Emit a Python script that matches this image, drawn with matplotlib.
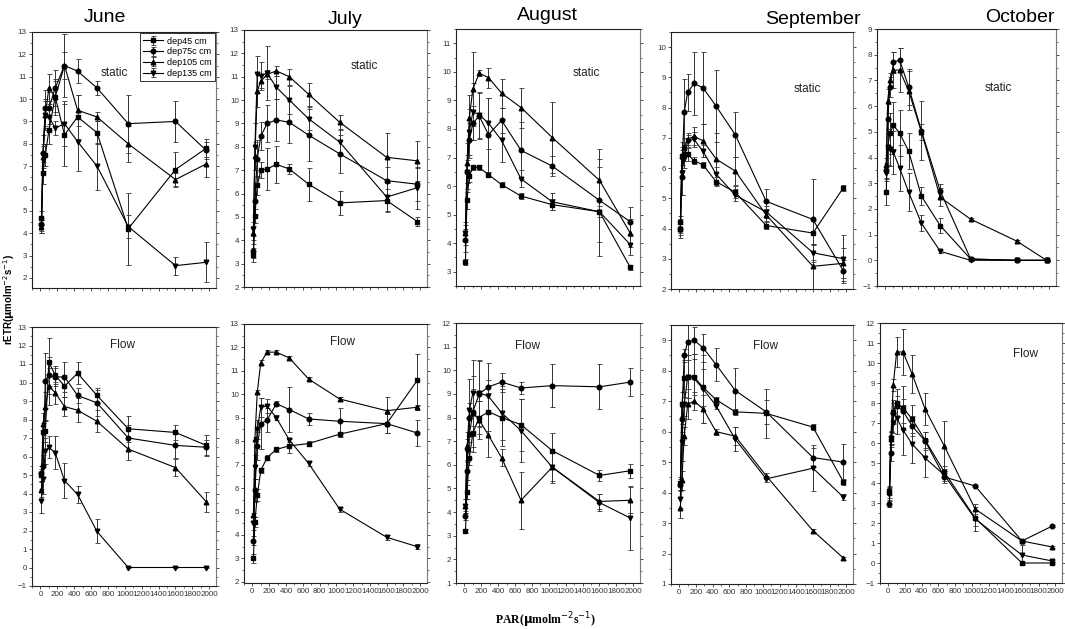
import matplotlib
matplotlib.use("Agg")
import matplotlib.pyplot as plt
from matplotlib.ticker import MultipleLocator

plt.rcParams['font.family'] = ['Liberation Sans', 'DejaVu Sans']

# PAR steps of the rapid light curves
par = [12, 30, 58, 100, 175, 285, 440, 670, 1040, 1600, 1965]
series = ['dep45 cm', 'dep75c cm', 'dep105 cm', 'dep135 cm']
months = ['June', 'July', 'August', 'September', 'October']

# rETR means (rows: dep45, dep75c, dep105, dep135) and standard errors
jun_static = [[4.7, 6.7, 7.5, 8.6, 10.1, 8.4, 9.2, 8.5, 4.2, 6.85, 7.8],
              [4.4, 7.6, 9.6, 9.6, 10.5, 11.5, 11.25, 10.5, 8.9, 9.0, 7.7],
              [4.3, 7.4, 9.3, 10.5, 10.1, 11.5, 9.5, 9.2, 8.0, 6.4, 7.1],
              [4.3, 7.5, 9.3, 9.2, 8.7, 8.9, 8.1, 7.0, 4.3, 2.55, 2.7]]
jun_static_err = [[0.3, 0.5, 0.5, 0.6, 0.7, 1.4, 1.0, 0.5, 1.6, 0.8, 0.4],
                  [0.3, 0.8, 0.8, 0.7, 0.8, 1.4, 0.55, 0.3, 1.3, 0.9, 0.4],
                  [0.3, 0.5, 0.7, 0.6, 0.8, 0.6, 0.7, 0.2, 0.8, 0.3, 0.6],
                  [0.3, 0.5, 0.6, 0.6, 0.3, 1.0, 1.3, 1.05, 0.5, 0.4, 0.9]]

jul_static = [[3.35, 5.05, 6.35, 7.0, 7.05, 7.25, 7.05, 6.4, 5.6, 5.7, 4.8],
              [3.55, 5.7, 7.5, 8.45, 9.0, 9.15, 9.05, 8.5, 7.7, 6.55, 6.4],
              [4.3, 7.6, 10.4, 10.8, 11.1, 11.25, 11.0, 10.25, 9.05, 7.55, 7.4],
              [4.5, 8.0, 11.1, 11.05, 11.15, 10.55, 10.0, 9.2, 8.2, 5.85, 6.25]]
jul_static_err = [[0.3, 0.3, 0.4, 0.35, 0.9, 0.8, 0.2, 0.7, 0.5, 0.5, 0.2],
                  [0.3, 0.6, 0.8, 0.6, 0.8, 0.9, 0.9, 1.1, 0.8, 0.6, 0.7],
                  [0.3, 0.6, 0.7, 0.3, 0.2, 0.2, 0.35, 0.5, 0.3, 1.05, 0.85],
                  [0.3, 1.0, 0.8, 0.6, 1.15, 0.5, 0.6, 0.5, 0.5, 0.6, 0.9]]

aug_static = [[3.35, 5.5, 6.35, 6.65, 6.65, 6.4, 6.05, 5.65, 5.35, 5.1, 3.15],
              [4.1, 6.5, 7.6, 8.2, 8.45, 7.8, 8.3, 7.25, 6.7, 5.5, 4.75],
              [4.35, 6.8, 8.4, 9.4, 9.95, 9.8, 9.25, 8.75, 7.7, 6.2, 4.35],
              [4.35, 6.5, 7.9, 8.6, 8.5, 8.2, 7.6, 6.25, 5.45, 5.1, 3.95]]
aug_static_err = [[0.1, 0.3, 0.2, 0.1, 0.1, 0.1, 0.1, 0.1, 0.2, 0.2, 0.1],
                  [0.4, 0.4, 0.6, 0.6, 0.8, 1.3, 0.45, 1.0, 0.35, 1.45, 0.5],
                  [0.3, 0.7, 0.8, 1.3, 0.1, 0.35, 0.5, 0.7, 1.25, 1.1, 0.5],
                  [0.4, 0.6, 0.8, 1.0, 0.8, 0.9, 0.75, 0.3, 0.3, 1.55, 0.35]]

sep_static = [[4.2, 6.4, 6.45, 6.45, 6.25, 6.1, 5.55, 5.2, 4.1, 3.85, 5.35],
              [4.0, 5.7, 7.85, 8.5, 8.8, 8.65, 8.05, 7.1, 4.9, 4.3, 2.6],
              [4.0, 6.4, 6.7, 6.95, 7.05, 6.9, 6.3, 5.9, 4.45, 2.75, 2.85],
              [4.0, 5.85, 6.3, 6.9, 6.95, 6.55, 5.8, 5.1, 4.55, 3.2, 3.0]]
sep_static_err = [[0.2, 0.3, 0.2, 0.2, 0.1, 0.1, 0.15, 0.2, 0.1, 0.4, 0.1],
                  [0.3, 0.6, 1.1, 0.6, 1.05, 1.2, 1.2, 0.75, 0.4, 1.35, 0.35],
                  [0.2, 0.45, 0.3, 0.2, 0.3, 0.55, 0.85, 0.45, 0.2, 0.75, 0.5],
                  [0.15, 0.75, 0.3, 0.2, 0.25, 0.2, 0.25, 0.2, 0.2, 0.3, 0.8]]

oct_static = [[2.65, 4.4, 4.95, 5.25, 4.95, 4.25, 2.5, 1.35, 0.05, 0.0, 0.0],
              [3.5, 5.5, 6.75, 7.7, 7.8, 6.75, 5.05, 2.7, 0.05, 0.0, 0.0],
              [3.7, 6.2, 7.0, 7.4, 7.4, 6.6, 5.0, 2.45, 1.6, 0.75, 0.0],
              [3.4, 4.4, 4.35, 4.2, 3.6, 2.65, 1.45, 0.35, 0.0, 0.0, 0.0]]
oct_static_err = [[0.5, 0.7, 0.8, 0.9, 0.9, 0.7, 0.35, 0.3, 0.05, 0.02, 0.02],
                  [0.3, 0.6, 0.4, 0.4, 0.45, 0.7, 1.15, 0.25, 0.05, 0.02, 0.02],
                  [0.3, 0.45, 0.3, 0.7, 0.85, 0.75, 0.3, 0.35, 0.05, 0.05, 0.02],
                  [0.3, 0.7, 0.7, 0.85, 0.9, 0.75, 0.3, 0.05, 0.02, 0.02, 0.02]]

jun_flow = [[5.0, 7.3, 7.4, 11.1, 10.4, 9.8, 10.5, 9.3, 7.5, 7.3, 6.6],
            [5.1, 5.5, 10.1, 10.4, 10.3, 10.3, 9.3, 8.9, 7.0, 6.6, 6.5],
            [4.2, 7.75, 8.7, 9.8, 9.45, 8.7, 8.5, 7.9, 6.4, 5.4, 3.55],
            [3.6, 4.8, 6.3, 6.5, 6.2, 4.7, 3.95, 1.95, 0.0, 0.0, 0.0]]
jun_flow_err = [[0.3, 0.5, 0.6, 1.3, 0.5, 0.6, 0.6, 0.4, 0.7, 0.4, 0.55],
                [0.4, 0.6, 1.5, 1.0, 0.5, 0.8, 0.4, 0.7, 0.7, 0.7, 0.4],
                [0.4, 0.6, 0.8, 1.0, 0.6, 0.5, 0.65, 0.6, 0.6, 0.45, 0.55],
                [0.65, 0.8, 0.7, 0.6, 0.9, 0.95, 0.45, 0.65, 0.05, 0.05, 0.05]]

jul_flow = [[3.0, 4.55, 5.7, 6.75, 7.3, 7.65, 7.8, 7.9, 8.3, 8.75, 10.6],
            [3.75, 5.9, 7.8, 8.75, 8.9, 9.6, 9.35, 8.95, 8.85, 8.75, 8.35],
            [4.85, 8.1, 10.1, 11.35, 11.8, 11.8, 11.55, 10.65, 9.8, 9.3, 9.45],
            [4.5, 6.9, 8.5, 9.45, 9.5, 9.0, 8.05, 7.05, 5.1, 3.9, 3.5]]
jul_flow_err = [[0.2, 0.2, 0.25, 0.1, 0.1, 0.1, 0.3, 0.1, 0.1, 0.4, 1.1],
                [0.2, 0.5, 0.6, 1.1, 0.5, 0.1, 0.95, 0.25, 0.55, 0.4, 0.55],
                [0.1, 0.1, 0.1, 0.1, 0.1, 0.1, 0.1, 0.1, 0.1, 0.6, 0.1],
                [0.3, 0.5, 0.4, 0.4, 0.3, 0.1, 0.1, 0.1, 0.1, 0.1, 0.1]]

aug_flow = [[3.2, 4.85, 6.3, 7.35, 8.0, 8.25, 8.0, 7.7, 6.6, 5.55, 5.75],
            [3.85, 5.75, 8.0, 8.25, 9.0, 9.3, 9.5, 9.25, 9.35, 9.3, 9.5],
            [4.25, 6.8, 7.3, 8.2, 7.9, 7.25, 6.3, 4.5, 5.9, 4.45, 4.5],
            [4.25, 6.6, 8.3, 9.05, 9.05, 8.9, 8.2, 7.45, 5.9, 4.4, 3.75]]
aug_flow_err = [[0.1, 0.3, 0.3, 0.8, 0.7, 0.8, 1.2, 1.1, 0.75, 0.25, 0.3],
                [0.2, 0.4, 0.6, 1.5, 1.4, 1.0, 0.4, 0.25, 0.9, 0.95, 0.6],
                [0.3, 0.6, 1.0, 1.0, 0.8, 0.9, 0.35, 1.2, 0.65, 0.3, 0.55],
                [0.3, 0.5, 1.35, 1.4, 1.4, 0.7, 1.15, 1.35, 0.6, 0.35, 1.35]]

sep_flow = [[4.3, 6.9, 7.75, 7.8, 7.8, 7.45, 7.05, 6.65, 6.6, 6.15, 4.35],
            [4.25, 6.4, 8.5, 8.95, 9.0, 8.75, 8.2, 7.35, 6.65, 5.15, 5.0],
            [3.5, 4.4, 5.85, 6.9, 7.0, 6.75, 6.0, 5.85, 4.55, 2.75, 1.85],
            [3.8, 5.65, 6.9, 7.8, 7.75, 7.4, 6.85, 5.75, 4.45, 4.8, 3.85]]
sep_flow_err = [[0.2, 0.4, 0.6, 0.7, 0.6, 0.6, 0.1, 0.1, 0.8, 0.1, 0.1],
                [0.2, 0.4, 0.2, 0.6, 0.45, 0.45, 0.55, 0.75, 0.4, 0.3, 0.6],
                [0.35, 0.3, 0.3, 0.5, 0.3, 0.45, 0.1, 0.3, 0.1, 0.05, 0.05],
                [0.3, 0.6, 0.4, 0.7, 0.8, 1.1, 0.1, 0.4, 0.1, 0.75, 0.1]]

oct_flow = [[3.6, 6.25, 7.55, 8.0, 7.75, 7.2, 6.15, 4.55, 2.25, 0.0, 0.0],
            [2.95, 5.5, 7.5, 7.85, 7.6, 6.85, 6.1, 4.3, 3.85, 1.1, 1.85],
            [3.55, 6.2, 8.9, 10.55, 10.55, 9.45, 7.7, 5.85, 2.7, 1.1, 0.8],
            [3.45, 6.25, 7.0, 7.25, 6.65, 5.95, 5.25, 4.4, 2.2, 0.4, 0.1]]
oct_flow_err = [[0.2, 0.3, 0.6, 0.7, 1.1, 0.7, 0.4, 0.3, 0.4, 0.05, 0.05],
                [0.15, 0.4, 0.5, 0.5, 0.6, 0.5, 0.45, 0.3, 0.05, 0.05, 0.05],
                [0.3, 0.4, 0.3, 0.75, 1.15, 0.95, 0.8, 1.25, 0.25, 0.05, 0.05],
                [0.3, 0.3, 0.5, 0.8, 1.25, 0.95, 0.95, 0.3, 0.6, 0.5, 0.05]]

static_data = [jun_static, jul_static, aug_static, sep_static, oct_static]
static_errs = [jun_static_err, jul_static_err, aug_static_err, sep_static_err, oct_static_err]
flow_data = [jun_flow, jul_flow, aug_flow, sep_flow, oct_flow]
flow_errs = [jun_flow_err, jul_flow_err, aug_flow_err, sep_flow_err, oct_flow_err]

markers = ['s', 'o', '^', 'v']

W, H = 1065, 629
fig = plt.figure(figsize=(W / 100, H / 100), dpi=100)


def add_axes_px(left, top, right, bottom):
    return fig.add_axes([left / W, 1 - bottom / H, (right - left) / W, (bottom - top) / H])


# panel boxes in pixels: (left, top, right, bottom)
top_boxes = [(32, 32, 216, 288), (244, 30, 427, 287), (456, 29, 640, 286),
             (671, 32, 853, 289), (877, 29, 1056, 286)]
bot_boxes = [(32, 327, 216, 586), (244, 324, 427, 583), (456, 323, 640, 583),
             (671, 325, 853, 584), (880, 323, 1062, 583)]
top_ylims = [(1.55, 13), (2, 13), (2.5, 11.5), (2, 10.5), (-1, 9)]
bot_ylims = [(-1, 13), (1.95, 13), (1, 12), (1, 9.5), (-1, 12)]

static_pos = [(0.45, 0.84), (0.66, 0.86), (0.71, 0.83), (0.75, 0.78), (0.68, 0.77)]
flow_pos = [(0.49, 0.93), (0.54, 0.93), (0.39, 0.91), (0.52, 0.92), (0.80, 0.88)]


def style_axes(ax, ylim, show_xlabels):
    ax.set_xlim(-100, 2080)
    ax.set_ylim(*ylim)
    ax.xaxis.set_major_locator(MultipleLocator(200))
    ax.xaxis.set_minor_locator(MultipleLocator(100))
    ax.yaxis.set_major_locator(MultipleLocator(1))
    ax.yaxis.set_minor_locator(MultipleLocator(0.5))
    ax.tick_params(which='both', direction='out', labelsize=5.8, colors='#333333',
                   right=True, top=False, pad=1.2)
    ax.tick_params(which='major', length=2.5, width=0.6)
    ax.tick_params(which='minor', length=1.5, width=0.5)
    if not show_xlabels:
        ax.tick_params(axis='x', labelbottom=False)
    for s in ax.spines.values():
        s.set_linewidth(0.8)
        s.set_color('#222222')
    ax.spines['right'].set_color('#777777')


def draw_panel(ax, data, errs):
    for vals, err, m, name in zip(data, errs, markers, series):
        ax.errorbar(par, vals, yerr=err, color='black', ecolor='#333333',
                    elinewidth=0.7, capsize=1.8, capthick=0.6, lw=0.8,
                    marker=m, ms=3.3, mfc='black', mec='black', label=name)


for i in range(5):
    ax = add_axes_px(*top_boxes[i])
    style_axes(ax, top_ylims[i], False)
    draw_panel(ax, static_data[i], static_errs[i])
    ax.text(*static_pos[i], 'static', transform=ax.transAxes, fontsize=8.5,
            ha='center', va='center', color='#222222')
    if i == 0:
        leg = ax.legend(loc='upper right', fontsize=6.5, frameon=True, fancybox=False,
                        edgecolor='black', borderpad=0.35, labelspacing=0.2,
                        handlelength=2.2, handletextpad=0.4, borderaxespad=0.15)
        leg.get_frame().set_linewidth(0.7)

    ax = add_axes_px(*bot_boxes[i])
    style_axes(ax, bot_ylims[i], True)
    draw_panel(ax, flow_data[i], flow_errs[i])
    ax.text(*flow_pos[i], 'Flow', transform=ax.transAxes, fontsize=8.5,
            ha='center', va='center', color='#222222')

# month headings above each column
title_pos = [(105, 18), (345, 19), (547, 15), (813, 19), (1020, 17)]
for (x, y), name in zip(title_pos, months):
    fig.text(x / W, 1 - y / H, name, fontsize=14, ha='center', va='center')

fig.text(9 / W, 1 - 300 / H, r'rETR($\mathbf{\mu}$molm$^{-2}$s$^{-1}$)', rotation=90,
         fontsize=7, fontweight='bold', ha='center', va='center')
fig.text(545 / W, 1 - 620 / H, r'PAR($\mathbf{\mu}$molm$^{-2}$s$^{-1}$)',
         family='Liberation Serif', fontsize=8.5, fontweight='bold', ha='center', va='center')

fig.savefig('out.png', dpi=100)
